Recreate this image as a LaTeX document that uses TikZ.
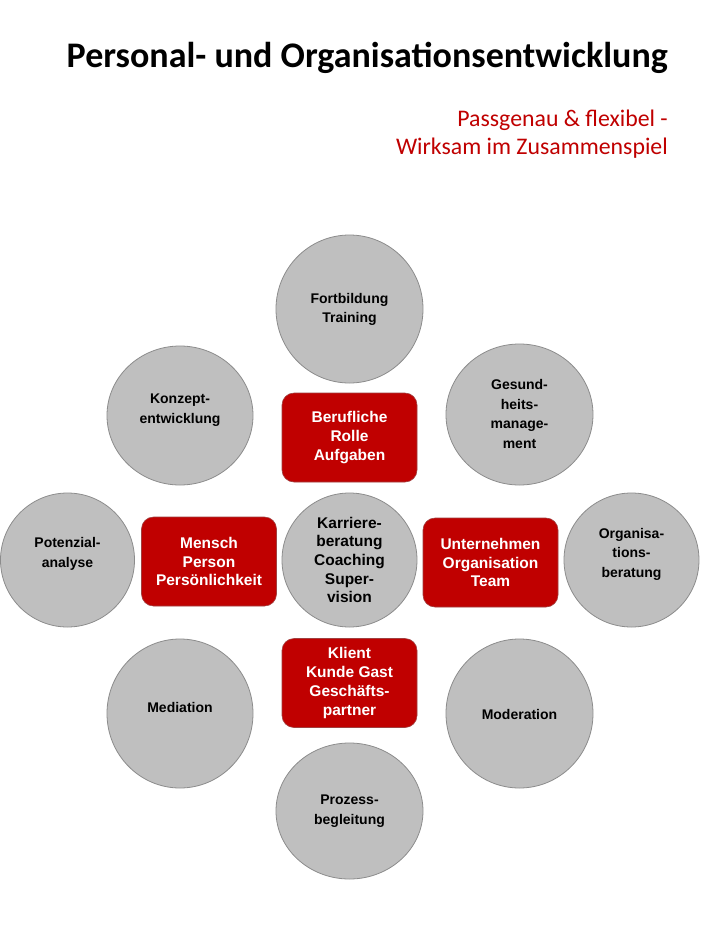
\documentclass[tikz,border=0pt]{standalone}
\usepackage{fontspec}
\setmainfont{Liberation Sans}
\newfontfamily\calibri{Carlito}
\usetikzlibrary{shapes.geometric}
\definecolor{rd}{HTML}{C00000}
\definecolor{rdb}{HTML}{A04040}
\definecolor{gy}{HTML}{BFBFBF}
\definecolor{gyb}{HTML}{8C8C8C}
\begin{document}
\begin{tikzpicture}[x=1pt,y=-1pt,
  bub/.style={ellipse, draw=gyb, fill=gy, line width=0.8pt, inner sep=0pt},
  btxt/.style={align=center, inner sep=0pt, font=\bfseries\fontsize{14}{19.5}\selectfont},
  ctxt/.style={align=center, inner sep=0pt, font=\bfseries\fontsize{15.5}{18.7}\selectfont},
  rbox/.style={rectangle, rounded corners=12pt, draw=rdb, fill=rd, line width=0.6pt,
    minimum width=135pt, minimum height=89pt, inner sep=0pt, text=white, align=center,
    font=\bfseries\fontsize{15.5}{18.7}\selectfont}
]
\useasboundingbox (0,0) rectangle (704,938);
\fill[white] (0,0) rectangle (704,938);

% title
\node[anchor=base east, inner sep=0pt, font=\calibri\bfseries\fontsize{36}{42}\selectfont] (title) at (668,67) {Personal- und Organisationsentwicklung};
\node[anchor=base east, inner sep=0pt, text=rd, font=\calibri\fontsize{23.8}{28}\selectfont] (sub1) at (668,126) {Passgenau \& flexibel -};
\node[anchor=base east, inner sep=0pt, text=rd, font=\calibri\fontsize{23.8}{28}\selectfont] (sub2) at (668,154) {Wirksam im Zusammenspiel};

% bubbles
\node[bub, minimum width=147pt, minimum height=148pt] (fort) at (349.5,309) {};
\node[btxt] (fort-t) at (349.5,309.5) {Fortbildung\\Training};

\node[bub, minimum width=146pt, minimum height=139pt] (konz) at (180,415.5) {};
\node[btxt] (konz-t) at (180,410) {Konzept-\\entwicklung};

\node[bub, minimum width=147pt, minimum height=141pt] (ges) at (519.5,414.5) {};
\node[btxt] (ges-t) at (519.5,414) {Gesund-\\heits-\\manage-\\ment};

\node[bub, minimum width=134pt, minimum height=134pt] (pot) at (67.5,560) {};
\node[btxt] (pot-t) at (67.5,554) {Potenzial-\\analyse};

\node[bub, minimum width=135pt, minimum height=134pt] (kar) at (349.5,560) {};
\node[ctxt] (kar-t) at (349.5,560) {Karriere-\\beratung\\Coaching\\Super-\\vision};

\node[bub, minimum width=135pt, minimum height=134pt] (org) at (631.5,560) {};
\node[btxt] (org-t) at (631.5,554) {Organisa-\\tions-\\beratung};

\node[bub, minimum width=146pt, minimum height=149pt] (med) at (180,713.5) {};
\node[btxt] (med-t) at (180,707) {Mediation};

\node[bub, minimum width=147pt, minimum height=149pt] (mod) at (519.5,713.5) {};
\node[btxt] (mod-t) at (519.5,714) {Moderation};

\node[bub, minimum width=147pt, minimum height=136pt] (proz) at (349.5,811) {};
\node[btxt] (proz-t) at (349.5,811) {Prozess-\\begleitung};

% red boxes
\node[rbox] (beruf) at (349.5,437.5) {Berufliche\\Rolle\\Aufgaben};
\node[rbox] (mensch) at (209,561.5) {Mensch\\Person\\Persönlichkeit};
\node[rbox] (unter) at (490.5,562.5) {Unternehmen\\Organisation\\Team};
\node[rbox] (klient) at (349.5,683) {Klient\\Kunde Gast\\Geschäfts-\\partner};
\end{tikzpicture}
\end{document}
